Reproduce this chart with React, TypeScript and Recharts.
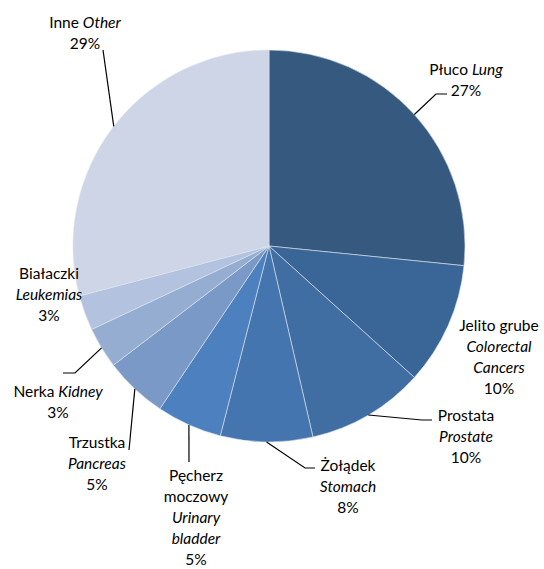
import React from 'react';
import { PieChart, Pie, Cell } from 'recharts';

// share of cancer deaths by site
const sitesPl = ['Płuco', 'Jelito grube', 'Prostata', 'Żołądek', 'Pęcherz moczowy', 'Trzustka', 'Nerka', 'Białaczki', 'Inne'];
const sitesEn = ['Lung', 'Colorectal Cancers', 'Prostate', 'Stomach', 'Urinary bladder', 'Pancreas', 'Kidney', 'Leukemias', 'Other'];
const shares = [26.6, 10.1, 9.7, 7.6, 5.4, 5.2, 3.4, 2.9, 29.1];

const COLORS = ['#36597f', '#3a6597', '#406ea3', '#4575ae', '#4c80be', '#7b99c6', '#96add2', '#b3c2de', '#cdd5e6'];

// how each label is broken into lines: [text, italic]
const LABEL_LINES: [string, boolean][][] = [
    [[sitesPl[0] + ' ', false], [sitesEn[0], true]],
    [[sitesPl[1], false]],
    [[sitesPl[2], false]],
    [[sitesPl[3], false]],
    [['Pęcherz', false]],
    [[sitesPl[5], false]],
    [[sitesPl[6] + ' ', false], [sitesEn[6], true]],
    [[sitesPl[7], false]],
    [[sitesPl[8] + ' ', false], [sitesEn[8], true]],
];
const EXTRA_LINES: [string, boolean][][][] = [
    [],
    [[['Colorectal', true]], [['Cancers', true]]],
    [[[sitesEn[2], true]]],
    [[[sitesEn[3], true]]],
    [[['moczowy', false]], [['Urinary', true]], [['bladder', true]]],
    [[[sitesEn[5], true]]],
    [],
    [[[sitesEn[7], true]]],
    [],
];

// label block placement (centre x, first line y) and leader elbows
const LABEL_POS = [
    { x: 466, y: 69, leader: [[436, 94], [447, 94]] },
    { x: 499, y: 325, leader: null },
    { x: 466, y: 415, leader: [[422, 420], [432, 420]] },
    { x: 348, y: 465, leader: [[305, 468], [315, 468]] },
    { x: 196, y: 475, leader: [[189, 462]] },
    { x: 97, y: 442, leader: [[129, 450]] },
    { x: 58, y: 391, leader: [[75, 373], [63, 373]] },
    { x: 49, y: 273, leader: null },
    { x: 85, y: 22, leader: [[103, 50]] },
];

const data = sitesPl.map((pl, i) => ({ name: pl, en: sitesEn[i], value: shares[i] }));

const LINE_H = 21;
const FONT_SIZE = 15.5;

const renderLabel = (props: any) => {
    const { cx, cy, midAngle, outerRadius, percent, index } = props;
    const RADIAN = Math.PI / 180;
    const ex = cx + outerRadius * Math.cos(-midAngle * RADIAN);
    const ey = cy + outerRadius * Math.sin(-midAngle * RADIAN);
    const pos = LABEL_POS[index];
    const lines = [LABEL_LINES[index], ...EXTRA_LINES[index]];
    const pts = pos.leader ? [[ex, ey], ...pos.leader] : null;

    return (
        <g key={`lbl-${index}`}>
            {pts && (
                <polyline
                    points={pts.map(p => p.join(',')).join(' ')}
                    fill="none"
                    stroke="#000"
                    strokeWidth={1.2}
                />
            )}
            {lines.map((line, li) => (
                <text
                    key={li}
                    x={pos.x}
                    y={pos.y + li * LINE_H}
                    textAnchor="middle"
                    dominantBaseline="central"
                    fill="#000"
                    fontSize={FONT_SIZE}
                >
                    {line.map(([t, it], si) => (
                        <tspan key={si} fontStyle={it ? 'italic' : 'normal'}>{t}</tspan>
                    ))}
                </text>
            ))}
            <text
                x={pos.x}
                y={pos.y + lines.length * LINE_H}
                textAnchor="middle"
                dominantBaseline="central"
                fill="#000"
                fontSize={FONT_SIZE}
            >
                {`${Math.round(percent * 100)}%`}
            </text>
        </g>
    );
};

export default function App() {
    return (
        <div style={{ position: 'absolute', left: 0, top: 0, width: 544, height: 569, background: '#fff', fontFamily: 'Lato, "Open Sans", sans-serif' }}>
            <PieChart width={544} height={569} margin={{ top: 0, right: 0, bottom: 0, left: 0 }}>
                <Pie
                    data={data}
                    dataKey="value"
                    cx={269}
                    cy={246}
                    outerRadius={196}
                    startAngle={90}
                    endAngle={-270}
                    stroke="#dde4ef"
                    strokeWidth={0.6}
                    label={renderLabel}
                    labelLine={false}
                    isAnimationActive={false}
                >
                    {data.map((entry, index) => (
                        <Cell key={`cell-${index}`} fill={COLORS[index]} />
                    ))}
                </Pie>
            </PieChart>
        </div>
    );
}
